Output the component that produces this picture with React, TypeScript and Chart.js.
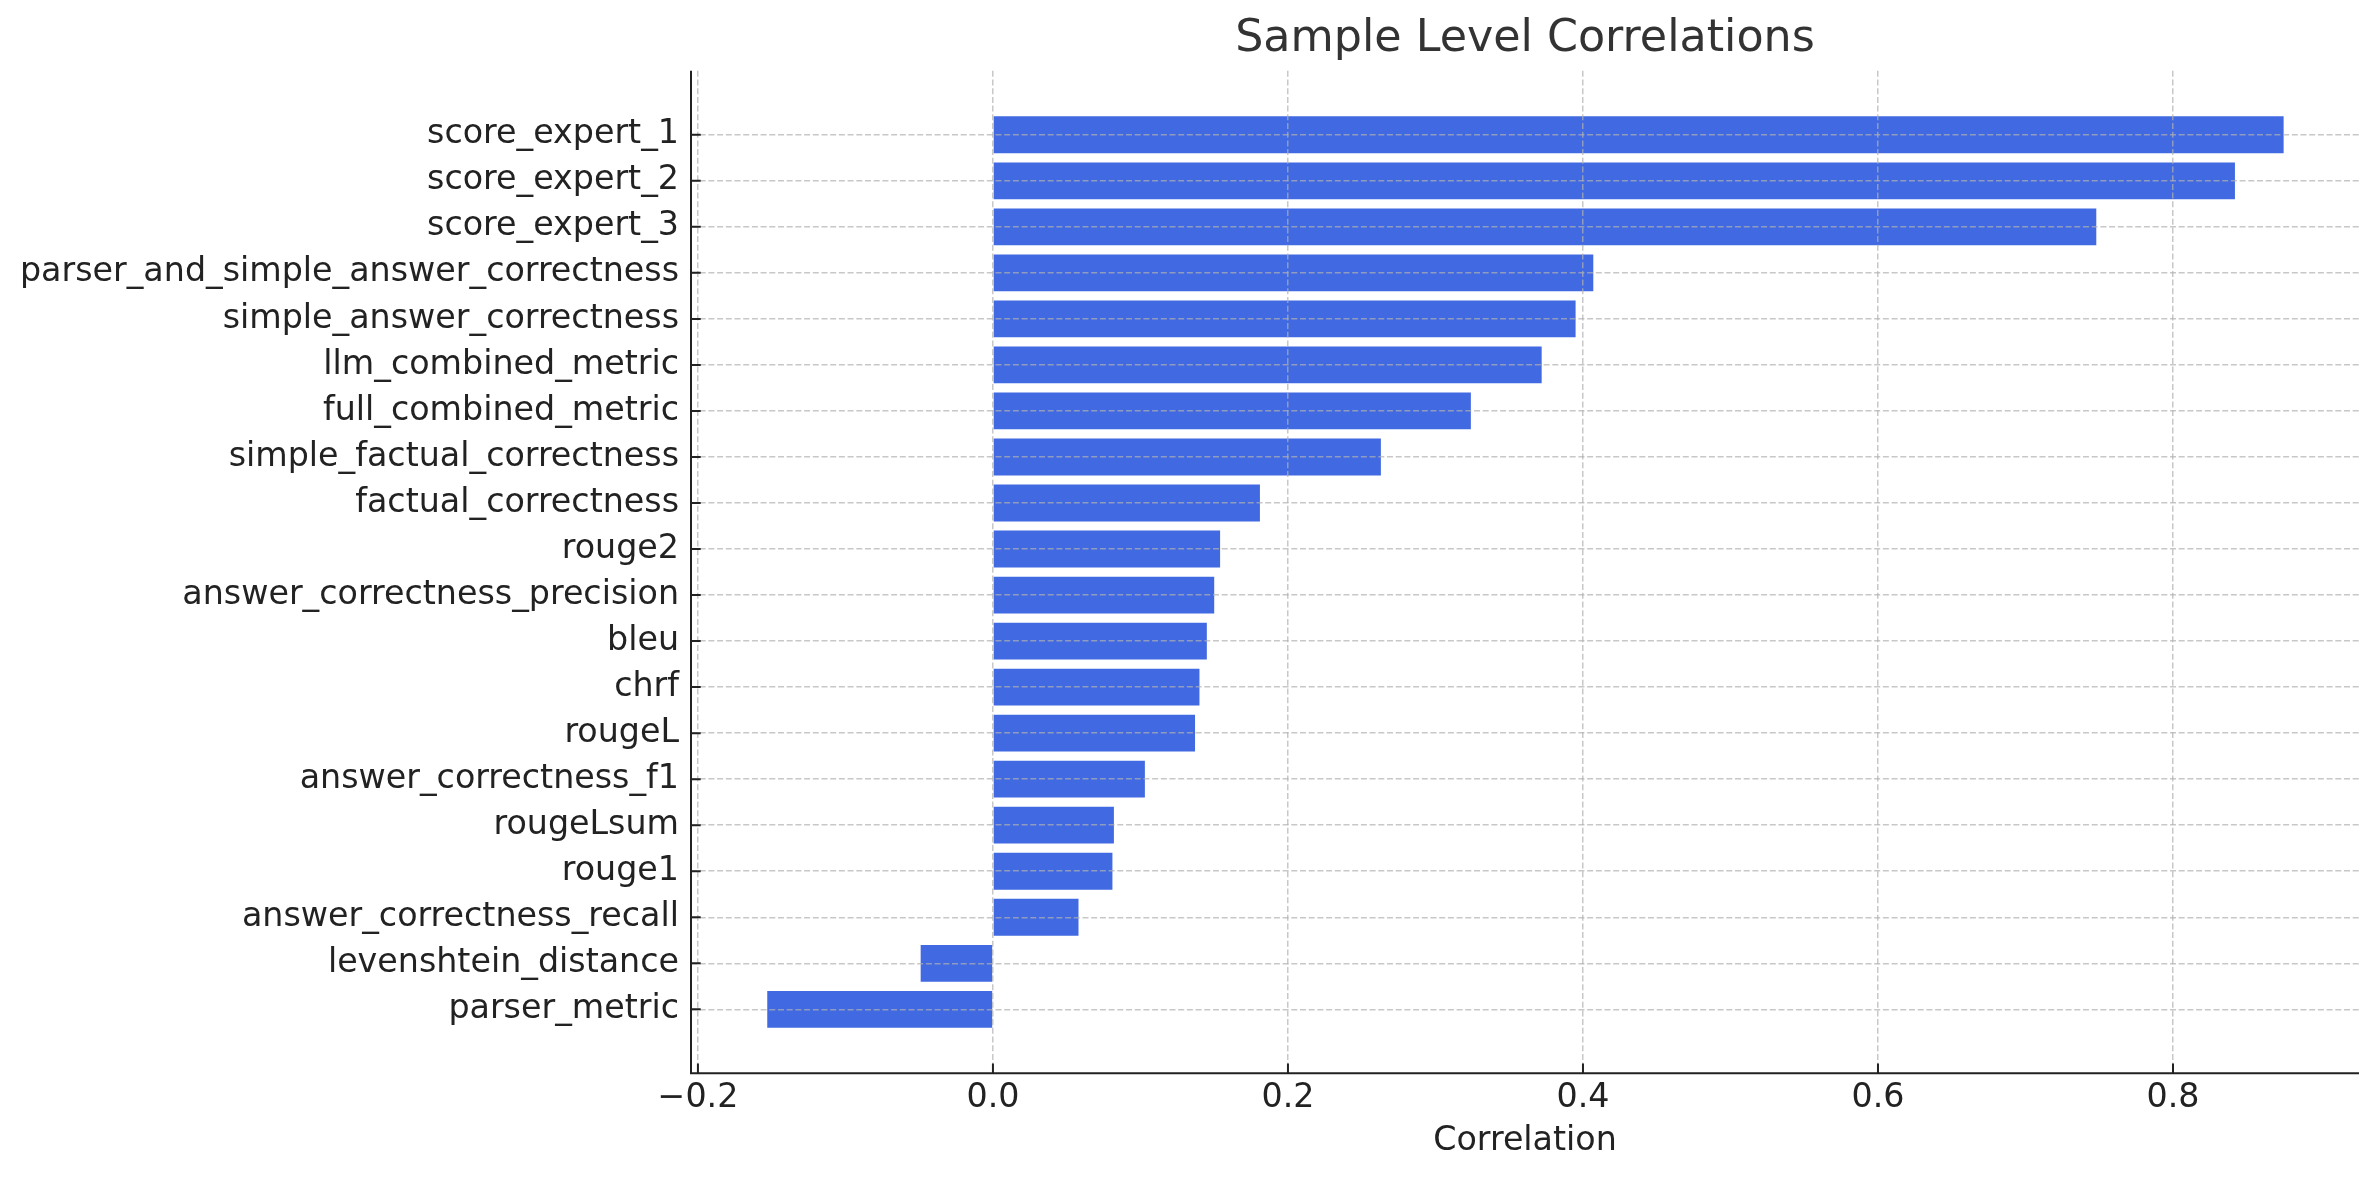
import React, { useEffect, useRef } from "react";
import { Chart, registerables } from "chart.js";

Chart.register(...registerables);

const categories: string[] = [
  "score_expert_1",
  "score_expert_2",
  "score_expert_3",
  "parser_and_simple_answer_correctness",
  "simple_answer_correctness",
  "llm_combined_metric",
  "full_combined_metric",
  "simple_factual_correctness",
  "factual_correctness",
  "rouge2",
  "answer_correctness_precision",
  "bleu",
  "chrf",
  "rougeL",
  "answer_correctness_f1",
  "rougeLsum",
  "rouge1",
  "answer_correctness_recall",
  "levenshtein_distance",
  "parser_metric",
];

const correlations: number[] = [
  0.875, 0.842, 0.748, 0.407, 0.395, 0.372, 0.324, 0.263, 0.181, 0.154,
  0.15, 0.145, 0.14, 0.137, 0.103, 0.082, 0.081, 0.058, -0.049, -0.153,
];

const xTickValues: number[] = [-0.2, 0, 0.2, 0.4, 0.6, 0.8];

const chartTitle = "Sample Level Correlations";
const xAxisTitle = "Correlation";

const FONT = "'DejaVu Sans', 'Liberation Sans', sans-serif";

function formatTick(v: number): string {
  const s = Math.abs(v).toFixed(1);
  return v < -1e-9 ? "\u2212" + s : s;
}

export default function App() {
  const ref = useRef<HTMLCanvasElement>(null);

  useEffect(() => {
    const canvas = ref.current;
    if (!canvas) return;

    const axisLines = {
      id: "axisLines",
      afterDraw(chart: any) {
        const { ctx, chartArea, scales } = chart;
        const len = 9.7;
        ctx.save();
        ctx.setLineDash([]);
        ctx.strokeStyle = "#222222";
        ctx.lineWidth = 2;
        ctx.beginPath();
        ctx.moveTo(chartArea.left, chartArea.top);
        ctx.lineTo(chartArea.left, chartArea.bottom);
        ctx.lineTo(chartArea.right, chartArea.bottom);
        ctx.stroke();
        ctx.beginPath();
        scales.y.ticks.forEach((t: any) => {
          const y = scales.y.getPixelForValue(t.value);
          ctx.moveTo(chartArea.left, y);
          ctx.lineTo(chartArea.left + len, y);
        });
        scales.x.ticks.forEach((t: any) => {
          const x = scales.x.getPixelForValue(t.value);
          ctx.moveTo(x, chartArea.bottom);
          ctx.lineTo(x, chartArea.bottom - len);
        });
        ctx.stroke();
        ctx.restore();
      },
    };

    const gridColor = "rgba(176,176,176,0.7)";

    const chart = new Chart(canvas, {
      type: "bar",
      data: {
        datasets: [
          {
            label: xAxisTitle,
            data: correlations.map((v, i) => ({ x: v, y: i })),
            backgroundColor: "#4169E1",
            borderWidth: 0,
            barPercentage: 0.8,
            categoryPercentage: 1.0,
          },
        ],
      },
      options: {
        indexAxis: "y",
        animation: false,
        responsive: false,
        maintainAspectRatio: false,
        devicePixelRatio: 1,
        layout: { padding: { left: 0, right: 20, top: 0, bottom: 0 } },
        plugins: {
          legend: { display: false },
          tooltip: { enabled: false },
          title: {
            display: true,
            text: chartTitle,
            fullSize: false,
            color: "#333333",
            font: { family: FONT, size: 44.4, weight: "normal" },
            padding: { top: 12.5, bottom: 5.0 },
          },
        },
        scales: {
          x: {
            type: "linear",
            position: "bottom",
            offset: false,
            min: -0.2047,
            max: 0.9261,
            afterBuildTicks: (scale: any) => {
              scale.ticks = xTickValues.map((v) => ({ value: v }));
            },
            afterFit: (scale: any) => {
              scale.height = 106.7;
            },
            grid: {
              display: true,
              offset: false,
              color: gridColor,
              lineWidth: 1.5,
              drawTicks: false,
              z: 1,
            },
            border: {
              display: false,
              dash: [6, 2.7],
            },
            ticks: {
              color: "#222222",
              font: { family: FONT, size: 33.3 },
              padding: 5,
              autoSkip: false,
              maxRotation: 0,
              callback: (v: any) => formatTick(Number(v)),
            },
            title: {
              display: true,
              text: xAxisTitle,
              color: "#222222",
              font: { family: FONT, size: 33.3 },
              padding: { top: 0, bottom: 18.3 },
            },
          },
          y: {
            type: "linear",
            position: "left",
            reverse: true,
            offset: false,
            min: -1.39,
            max: 20.39,
            afterBuildTicks: (scale: any) => {
              scale.ticks = categories.map((_, i) => ({ value: i }));
            },
            afterFit: (scale: any) => {
              scale.width = 691;
            },
            grid: {
              display: true,
              offset: false,
              color: gridColor,
              lineWidth: 1.5,
              drawTicks: false,
              z: 1,
            },
            border: {
              display: false,
              dash: [6, 2.7],
            },
            ticks: {
              color: "#222222",
              font: { family: FONT, size: 33.3 },
              padding: 12,
              autoSkip: false,
              callback: (v: any) => categories[Math.round(Number(v))] ?? "",
            },
          },
        },
      },
      plugins: [axisLines],
    } as any);

    return () => chart.destroy();
  }, []);

  return (
    <div
      style={{
        position: "absolute",
        left: 0,
        top: 0,
        width: 2379,
        height: 1180,
        background: "#ffffff",
      }}
    >
      <canvas
        ref={ref}
        width={2379}
        height={1180}
        style={{ width: 2379, height: 1180, display: "block" }}
      />
    </div>
  );
}
